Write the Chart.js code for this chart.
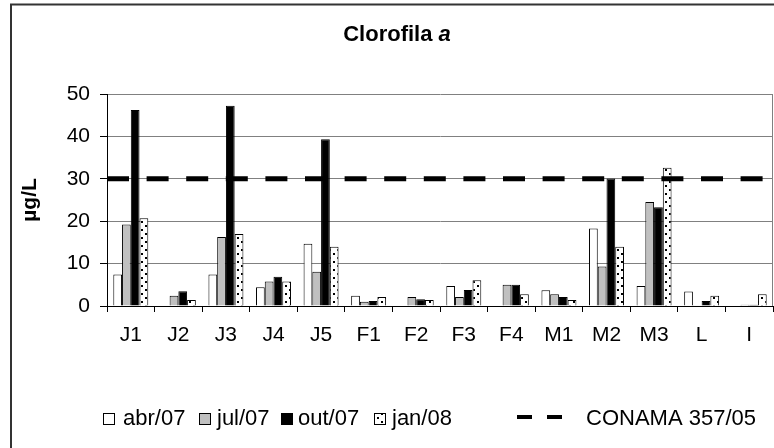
<!DOCTYPE html>
<html>
<head>
<meta charset="utf-8">
<script src="https://cdn.jsdelivr.net/npm/chart.js@4.4.1/dist/chart.umd.min.js"></script>
<style>
  body { margin: 0; background: #fff; overflow: hidden; }
  canvas { display: block; }
</style>
</head>
<body>
<canvas id="myChart" width="774" height="448"></canvas>
<script>

// sampling points
var sites = ['J1', 'J2', 'J3', 'J4', 'J5', 'F1', 'F2', 'F3', 'F4', 'M1', 'M2', 'M3', 'L', 'I'];

// campaigns
var periods = ['abr/07', 'jul/07', 'out/07', 'jan/08'];

// clorofila a (ug/L) per campaign, null = no bar
var abr07 = [7.4, null, 7.4, 4.4, 14.7, 2.4, null, 4.7, null, 3.7, 18.3, 4.7, 3.4, null];
var jul07 = [19.2, 2.4, 16.3, 5.8, 8.1, 1.0, 2.1, 2.1, 5.0, 2.8, 9.3, 24.5, 0.2, 0.3];
var out07 = [46.2, 3.5, 47.2, 6.9, 39.3, 1.2, 1.6, 3.8, 5.0, 2.1, 30.1, 23.3, 1.2, 0.3];
var jan08 = [20.7, 1.4, 17.0, 5.8, 14.0, 2.1, 1.4, 6.1, 2.8, 1.4, 14.0, 32.6, 2.4, 2.8];

// limit line
var conamaLabel = 'CONAMA 357/05';
var conamaLimit = 30;

// y axis
var yMin = 0;
var yMax = 50;
var yStep = 10;

var FONT = '"Liberation Sans", Arial, sans-serif';

// white with black dots, like the excel fill
function dotPattern() {
    var c = document.createElement('canvas');
    c.width = 8;
    c.height = 8;
    var g = c.getContext('2d');
    g.fillStyle = '#fff';
    g.fillRect(0, 0, 8, 8);
    g.fillStyle = '#000';
    g.fillRect(1, 1, 2, 2);
    g.fillRect(5, 5, 2, 2);
    return g.createPattern(c, 'repeat');
}
var dots = dotPattern();

function barSet(label, values, fill) {
    return {
        label: label,
        data: values,
        backgroundColor: fill,
        borderColor: '#000',
        borderWidth: 1,
        borderSkipped: 'bottom',
        categoryPercentage: 0.735,
        barPercentage: 1
    };
}

var dataSource = {
    labels: sites,
    datasets: [
        barSet(periods[0], abr07, '#ffffff'),
        barSet(periods[1], jul07, '#c0c0c0'),
        barSet(periods[2], out07, '#000000'),
        barSet(periods[3], jan08, dots)
    ]
};

// CONAMA limit: dashed line across the whole plot, placed by the y scale
var limitLine = {
    id: 'limitLine',
    afterDatasetsDraw: function (chart) {
        var ctx = chart.ctx;
        var area = chart.chartArea;
        var y = chart.scales.y.getPixelForValue(conamaLimit);
        ctx.save();
        ctx.strokeStyle = '#000';
        ctx.lineWidth = 5;
        ctx.lineCap = 'butt';
        ctx.setLineDash([22, 17.6]);
        ctx.beginPath();
        ctx.moveTo(area.left, y);
        ctx.lineTo(area.right, y);
        ctx.stroke();
        ctx.restore();
    }
};

// title, y label, legend, frame
var extras = {
    id: 'extras',
    afterDraw: function (chart) {
        var ctx = chart.ctx;
        var area = chart.chartArea;
        ctx.save();

        // outer frame (cut by the picture on right/bottom)
        ctx.strokeStyle = '#333';
        ctx.lineWidth = 2;
        ctx.strokeRect(11, 4.5, 800, 500);

        // right side of plot area
        ctx.strokeStyle = '#808080';
        ctx.lineWidth = 1;
        ctx.beginPath();
        ctx.moveTo(area.right - 0.5, area.top);
        ctx.lineTo(area.right - 0.5, area.bottom);
        ctx.stroke();

        // title
        ctx.fillStyle = '#000';
        ctx.textBaseline = 'alphabetic';
        ctx.textAlign = 'left';
        ctx.font = 'bold 22px ' + FONT;
        var t1 = 'Clorofila ';
        var w1 = ctx.measureText(t1).width;
        ctx.font = 'italic bold 22px ' + FONT;
        var w2 = ctx.measureText('a').width;
        var tx = 397 - (w1 + w2) / 2;
        ctx.font = 'bold 22px ' + FONT;
        ctx.fillText(t1, tx, 41);
        ctx.font = 'italic bold 22px ' + FONT;
        ctx.fillText('a', tx + w1, 41);

        // y axis title
        ctx.save();
        ctx.translate(30, (area.top + area.bottom) / 2);
        ctx.rotate(-Math.PI / 2);
        ctx.textAlign = 'center';
        ctx.textBaseline = 'middle';
        ctx.font = 'bold 21px ' + FONT;
        ctx.fillText('µg/L', 0, 0);
        ctx.restore();

        // legend
        var ly = 419;
        var boxX = [103, 199, 281, 374];
        var textX = [123, 217, 298, 392];
        ctx.font = '22px ' + FONT;
        ctx.textBaseline = 'middle';
        ctx.textAlign = 'left';
        for (var i = 0; i < 4; i++) {
            var ds = chart.data.datasets[i];
            ctx.fillStyle = ds.backgroundColor;
            ctx.fillRect(boxX[i], ly - 6, 12, 12);
            ctx.strokeStyle = '#000';
            ctx.lineWidth = 1;
            ctx.strokeRect(boxX[i] + 0.5, ly - 5.5, 11, 11);
            ctx.fillStyle = '#000';
            ctx.fillText(ds.label, textX[i], ly);
        }
        ctx.fillStyle = '#000';
        ctx.fillRect(517, ly - 4, 15, 4);
        ctx.fillRect(547, ly - 4, 15, 4);
        ctx.fillText(conamaLabel, 586, ly);

        ctx.restore();
    }
};

function createChart() {
    var ctx = document.getElementById('myChart').getContext('2d');
    var myChart = new Chart(ctx, {
        type: 'bar',
        data: dataSource,
        plugins: [limitLine, extras],
        options: {
            responsive: false,
            animation: false,
            devicePixelRatio: 1,
            layout: { padding: { left: 40, top: 94, right: 1, bottom: 0 } },
            plugins: {
                legend: { display: false },
                title: { display: false },
                tooltip: { enabled: false }
            },
            scales: {
                x: {
                    offset: true,
                    afterFit: function (s) { s.height = 142; },
                    grid: {
                        display: true,
                        offset: true,
                        drawOnChartArea: false,
                        tickLength: 6,
                        color: '#000'
                    },
                    border: { display: true, color: '#000', width: 1 },
                    ticks: {
                        color: '#000',
                        font: { family: FONT, size: 21 },
                        padding: 11,
                        maxRotation: 0,
                        autoSkip: false
                    }
                },
                y: {
                    min: yMin,
                    max: yMax,
                    afterFit: function (s) { s.width = 67; },
                    grid: {
                        color: '#808080',
                        tickLength: 7,
                        tickColor: '#000'
                    },
                    border: { display: true, color: '#000', width: 1 },
                    ticks: {
                        stepSize: yStep,
                        color: '#000',
                        font: { family: FONT, size: 21 },
                        padding: 10
                    }
                }
            }
        }
    });
}
createChart();

</script>
</body>
</html>
